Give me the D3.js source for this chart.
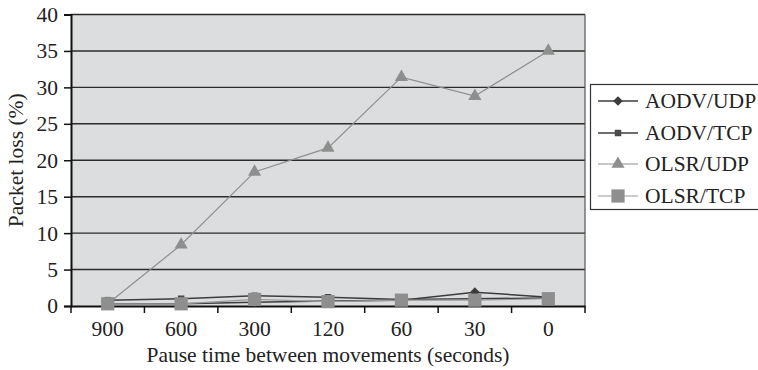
<!DOCTYPE html>
<html>
<head>
<meta charset="utf-8">
<script src="https://cdn.jsdelivr.net/npm/d3@7/dist/d3.min.js"></script>
<style>
  html, body { margin: 0; padding: 0; background: #fff; }
  svg { display: block; font-family: "Liberation Serif", "Times New Roman", serif; }
</style>
</head>
<body>
<svg id="chart" width="758" height="370"></svg>
<script>
// Pause times (seconds) along the x axis
const categories = ["900", "600", "300", "120", "60", "30", "0"];

// Packet loss (%) per protocol/transport
const aodvUdp = [0.3, 0.3, 0.5, 0.7, 0.8, 1.9, 1.2];
const aodvTcp = [0.8, 1.0, 1.4, 1.2, 0.9, 1.0, 1.1];
const olsrUdp = [0.3, 8.4, 18.4, 21.7, 31.4, 28.8, 35.0];
const olsrTcp = [0.3, 0.3, 0.9, 0.6, 0.8, 0.8, 1.0];

const yTicks = [0, 5, 10, 15, 20, 25, 30, 35, 40];

const seriesNames = ["AODV/UDP", "AODV/TCP", "OLSR/UDP", "OLSR/TCP"];
const seriesValues = [aodvUdp, aodvTcp, olsrUdp, olsrTcp];
const seriesStyle = [
  { line: "#3c3c3c", width: 1.5, fill: "#3c3c3c", shape: d3.symbolDiamond2, size: 60 },
  { line: "#3c3c3c", width: 1.5, fill: "#4a4a4a", shape: d3.symbolSquare, size: 42 },
  { line: "#8e8e8e", width: 1.2, fill: "#8e8e8e", shape: d3.symbolTriangle, size: 75 },
  { line: "#9a9a9a", width: 1.2, fill: "#8e8e8e", shape: d3.symbolSquare, size: 175 }
];

const FS = 21.5;

const svg = d3.select("#chart");
const margin = { left: 71, right: 585, top: 14.5, bottom: 306 };

const x = d3.scaleBand().domain(categories).range([margin.left, margin.right]).padding(0);
const y = d3.scaleLinear().domain([0, 40]).range([margin.bottom, margin.top]);

// plot background
svg.append("rect")
  .attr("x", margin.left).attr("y", margin.top)
  .attr("width", margin.right - margin.left).attr("height", margin.bottom - margin.top)
  .attr("fill", "#dcdddf");

// horizontal gridlines
svg.append("g").selectAll("line").data(yTicks.filter(d => d > 0)).join("line")
  .attr("x1", margin.left).attr("x2", margin.right)
  .attr("y1", d => y(d)).attr("y2", d => y(d))
  .attr("stroke", "#2b2b2b").attr("stroke-width", 1.4);

// right border of plot area
svg.append("line")
  .attr("x1", margin.right).attr("x2", margin.right)
  .attr("y1", margin.top).attr("y2", margin.bottom)
  .attr("stroke", "#555").attr("stroke-width", 1.2);

// y axis
const yAxis = d3.axisLeft(y).tickValues(yTicks).tickSize(7).tickPadding(6);
const gy = svg.append("g").attr("transform", `translate(${margin.left},0)`).call(yAxis);
gy.select(".domain").attr("stroke", "#111").attr("stroke-width", 2);
gy.selectAll(".tick line").attr("stroke", "#111").attr("stroke-width", 1.5);
gy.selectAll(".tick text").attr("font-size", FS).attr("fill", "#222")
  .attr("font-family", "Liberation Serif, serif");

// x axis: labels centred in bands, ticks on band boundaries
const xAxis = d3.axisBottom(x).tickSize(0).tickPadding(15);
const gx = svg.append("g").attr("transform", `translate(0,${margin.bottom})`).call(xAxis);
gx.select(".domain").attr("stroke", "#111").attr("stroke-width", 2);
gx.selectAll(".tick text").attr("font-size", FS).attr("fill", "#222")
  .attr("font-family", "Liberation Serif, serif");

const boundaries = categories.map(c => x(c)).concat([x.range()[1]]);
svg.append("g").selectAll("line").data(boundaries).join("line")
  .attr("x1", d => d).attr("x2", d => d)
  .attr("y1", margin.bottom).attr("y2", margin.bottom + 7)
  .attr("stroke", "#111").attr("stroke-width", 1.5);

// axis titles
svg.append("text")
  .attr("x", (margin.left + margin.right) / 2).attr("y", 362)
  .attr("text-anchor", "middle").attr("font-size", FS).attr("fill", "#222")
  .text("Pause time between movements (seconds)");

svg.append("text")
  .attr("transform", `translate(23,${(margin.top + margin.bottom) / 2}) rotate(-90)`)
  .attr("text-anchor", "middle").attr("font-size", FS).attr("fill", "#222")
  .text("Packet loss (%)");

// series
const cx = c => x(c) + x.bandwidth() / 2;
const line = d3.line().x((d, i) => cx(categories[i])).y(d => y(d));

seriesValues.forEach((vals, si) => {
  const st = seriesStyle[si];
  const g = svg.append("g");
  g.append("path").datum(vals)
    .attr("d", line).attr("fill", "none")
    .attr("stroke", st.line).attr("stroke-width", st.width);
  g.selectAll("path.m").data(vals).join("path")
    .attr("class", "m")
    .attr("transform", (d, i) => `translate(${cx(categories[i])},${y(d)})`)
    .attr("d", d3.symbol().type(st.shape).size(st.size))
    .attr("fill", st.fill);
});

// legend
const lg = svg.append("g");
lg.append("rect")
  .attr("x", 590.5).attr("y", 84.5).attr("width", 175).attr("height", 125)
  .attr("fill", "#fff").attr("stroke", "#333").attr("stroke-width", 1.2);

const legendY = [101, 133, 164, 196];
seriesNames.forEach((name, i) => {
  const st = seriesStyle[i];
  const ly = legendY[i];
  lg.append("line").attr("x1", 598).attr("x2", 638).attr("y1", ly).attr("y2", ly)
    .attr("stroke", st.line).attr("stroke-width", st.width);
  lg.append("path")
    .attr("transform", `translate(618,${ly})`)
    .attr("d", d3.symbol().type(st.shape).size(st.size))
    .attr("fill", st.fill);
  lg.append("text").attr("x", 645).attr("y", ly + 7)
    .attr("font-size", FS).attr("fill", "#222").text(name);
});
</script>
</body>
</html>
